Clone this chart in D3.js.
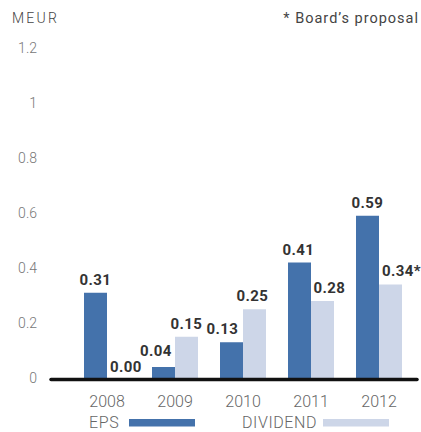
<!DOCTYPE html>
<html><head><meta charset="utf-8">
<script src="https://cdn.jsdelivr.net/npm/d3@7"></script>
<style>
html,body{margin:0;padding:0;background:#fff;}
svg{display:block;}
</style></head>
<body>
<script>
const years = ["2008","2009","2010","2011","2012"];
const eps = [0.31, 0.04, 0.13, 0.42, 0.59];
const dividend = [0.00, 0.15, 0.25, 0.28, 0.34];
const epsLabels = ["0.31","0.04","0.13","0.41","0.59"];
const divLabels = ["0.00","0.15","0.25","0.28","0.34*"];
const yTicks = [0, 0.2, 0.4, 0.6, 0.8, 1, 1.2];
const seriesNames = ["EPS","DIVIDEND"];
// label nudges (layout only)
const epsNudge = [[0,-8],[-7.5,-11],[-9,-8.5],[-1,-8],[0,-8]];
const divNudge = [[7.5,-6.5],[0,-8],[-2,-8.5],[7,-8.5],[11,-8.5]];

const W = 421, H = 432;
const colors = {EPS:"#4472ab", DIVIDEND:"#cdd6e8"};
const svg = d3.select("body").append("svg").attr("width",W).attr("height",H);

const y = d3.scaleLinear().domain([0,1.2]).range([378,48]);
const x = d3.scaleBand().domain(years).range([73,413]).paddingInner(22/68).paddingOuter(11/68);
const xs = d3.scaleBand().domain(seriesNames).range([0,x.bandwidth()]);

// y tick labels
svg.append("g").selectAll("text").data(yTicks).join("text")
  .attr("x",37).attr("y",d=>y(d)).attr("dy","0.35em")
  .attr("text-anchor","end")
  .style("font-family","Roboto").style("font-size","14px").style("font-weight","300").style("fill","#777")
  .text(d=>d3.format("")(d));

svg.append("text").attr("x",12).attr("y",23)
  .style("font-family","Roboto").style("font-size","14px").style("font-weight","300").style("letter-spacing","2.2px").style("fill","#444")
  .text("MEUR");
svg.append("text").attr("x",419).attr("y",23).attr("text-anchor","end")
  .style("font-family","Roboto").style("font-size","14.5px").style("letter-spacing","1px").style("fill","#444")
  .text("* Board\u2019s proposal");

const rows = years.map((yr,i)=>({yr,i,EPS:eps[i],DIVIDEND:dividend[i]}));
const g = svg.append("g");
seriesNames.forEach(s=>{
  g.selectAll("rect."+s).data(rows).join("rect").attr("class",s)
    .attr("x",d=>x(d.yr)+xs(s)).attr("width",xs.bandwidth())
    .attr("y",d=>y(d[s])).attr("height",d=>y(0)-y(d[s]))
    .attr("fill",colors[s]);
});

// axis line
svg.append("line").attr("x1",51).attr("x2",417).attr("y1",379.5).attr("y2",379.5)
  .attr("stroke","#111").attr("stroke-width",3.5).attr("stroke-linecap","round");

// value labels
const lab = (s, labels, nudge) => g.selectAll("text."+s).data(rows).join("text").attr("class",s)
  .attr("x",d=>x(d.yr)+xs(s)+xs.bandwidth()/2+nudge[d.i][0])
  .attr("y",d=>y(d[s])+nudge[d.i][1])
  .attr("text-anchor","middle")
  .style("font-family","Roboto").style("font-size","15px").style("font-weight","700").style("letter-spacing","0.4px").style("fill","#333")
  .text(d=>labels[d.i]);
lab("EPS", epsLabels, epsNudge);
lab("DIVIDEND", divLabels, divNudge);

// x labels
svg.append("g").selectAll("text").data(years).join("text")
  .attr("x",d=>x(d)+x.bandwidth()/2).attr("y",407)
  .attr("text-anchor","middle")
  .style("font-family","Roboto").style("font-size","16px").style("font-weight","300").style("fill","#666")
  .text(d=>d);

// legend
const leg = [{n:"EPS",tx:89,sx:129},{n:"DIVIDEND",tx:242,sx:323}];
leg.forEach(l=>{
  svg.append("text").attr("x",l.tx).attr("y",428)
    .style("font-family","Roboto").style("font-size","16px").style("font-weight","300").style("letter-spacing","0.6px").style("fill","#666")
    .text(l.n);
  svg.append("rect").attr("x",l.sx).attr("y",419).attr("width",66).attr("height",7.5).attr("fill",colors[l.n]);
});
</script>
</body></html>
